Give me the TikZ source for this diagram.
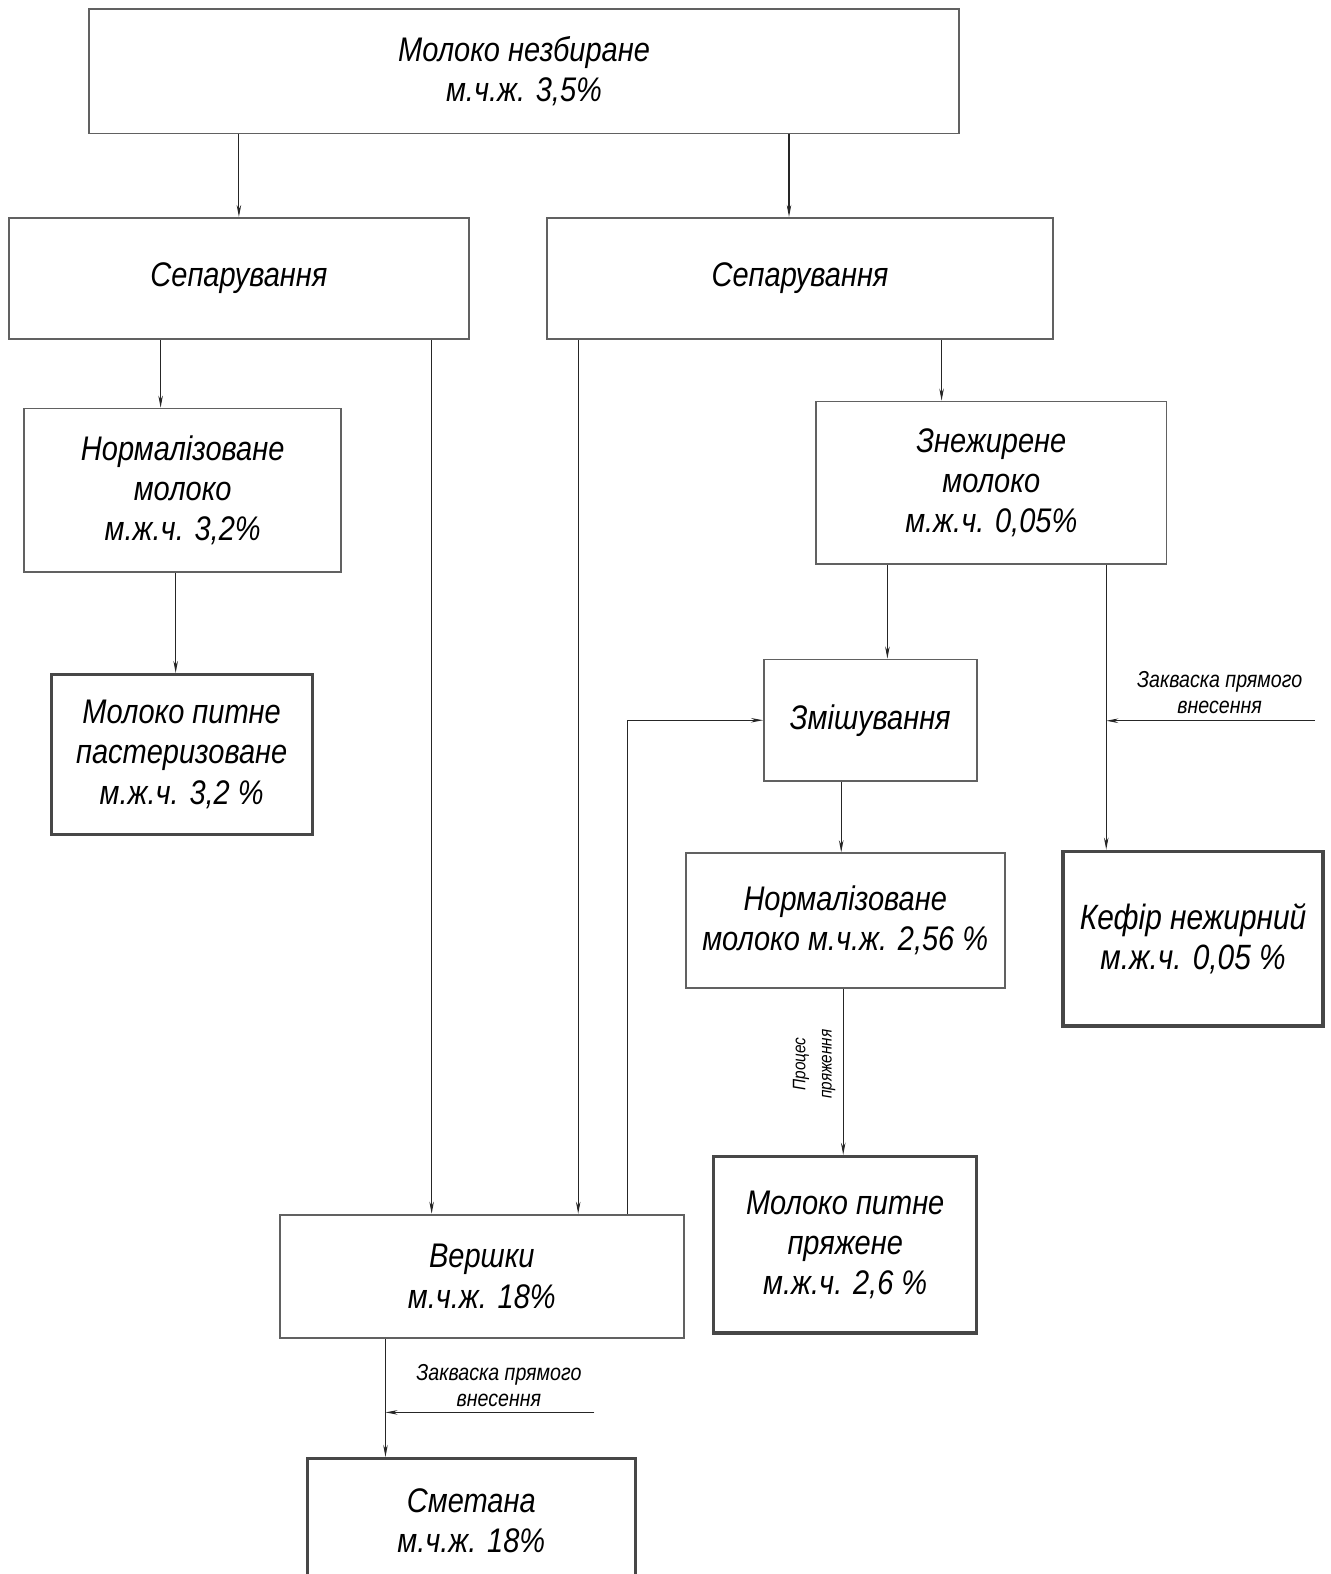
\documentclass[tikz,border=0pt]{standalone}
\usepackage{fontspec}
\setmainfont{Liberation Sans}[FakeStretch=0.85]
\usetikzlibrary{arrows.meta}
\newcommand\bigf{\fontsize{34}{40}\selectfont\itshape}
\newcommand\kf{\fontsize{35}{40}\selectfont\itshape}
\newcommand\smf{\fontsize{23}{26}\selectfont\itshape}
\newcommand\rotf{\fontsize{18}{26}\selectfont\itshape}
\begin{document}
\begin{tikzpicture}[x=1pt,y=-1pt,
  box/.style={draw=black!62, line width=1.8pt, align=center, inner sep=0pt, font=\bigf},
  thickbox/.style={box, draw=black!72, line width=3.2pt},
  conn/.style={draw=black!85, line width=1.1pt, -{Stealth[length=12pt,width=4.5pt]}},
  lab/.style={align=center, inner sep=0pt, font=\smf}]
\useasboundingbox (0,0) rectangle (1325,1568);
\clip (0,0) rectangle (1325,1568);
% boxes
\node[box, minimum width=866pt, minimum height=124pt] (top) at (522,71) {Молоко незбиране\\м.ч.ж. 3,5\%};
\node[box, minimum width=458pt, minimum height=121pt] (sepL) at (238,277.5) {Сепарування};
\node[box, minimum width=504pt, minimum height=121pt] (sepR) at (797,277.5) {Сепарування};
\node[box, minimum width=316pt, minimum height=163pt] (normL) at (182,488.5) {Нормалізоване\\молоко\\м.ж.ч. 3,2\%};
\node[thickbox, minimum width=260pt, minimum height=159pt] (milkL) at (181,751.5) {Молоко питне\\пастеризоване\\м.ж.ч. 3,2 \%};
\node[box, minimum width=349pt, minimum height=162pt] (zn) at (987.5,481) {Знежирене\\молоко\\м.ж.ч. 0,05\%};
\node[box, minimum width=212pt, minimum height=121pt] (zm) at (867,717.5) {Змішування};
\node[box, minimum width=318pt, minimum height=134pt] (norm2) at (842,917) {Нормалізоване\\молоко м.ч.ж. 2,56 \%};
\node[thickbox, font=\kf, minimum width=259pt, minimum height=174pt] (kef) at (1188.5,935) {Кефір нежирний\\м.ж.ч. 0,05 \%};
\node[thickbox, minimum width=262pt, minimum height=176pt] (pr) at (842,1240) {Молоко питне\\пряжене\\м.ж.ч. 2,6 \%};
\node[box, minimum width=402pt, minimum height=123pt] (ver) at (480,1271.5) {Вершки\\м.ч.ж. 18\%};
\node[thickbox, minimum width=327pt, minimum height=124pt] (sm) at (469.5,1515) {Сметана\\м.ч.ж. 18\%};
% labels
\node[lab] (lab1) at (1215,690) {Закваска прямого\\внесення};
\node[lab] (lab2) at (497,1380) {Закваска прямого\\внесення};
\node[lab, font=\rotf, rotate=90] (lab3) at (811,1060) {Процес\\пряження};
% input coordinates
\coordinate (k1) at (1310,718);
\coordinate (k2) at (1102,718);
\coordinate (s1) at (592,1407);
\coordinate (s2) at (384,1407);
% connectors
\draw[conn] (top.south -| 238,0) -- (sepL.north -| 238,0);
\draw[conn] (top.south -| 786,0) -- (sepR.north -| 786,0);
\draw[conn] (sepL.south -| 160,0) -- (normL.north -| 160,0);
\draw[conn] (sepL.south -| 430,0) -- (ver.north -| 430,0);
\draw[conn] (normL.south -| 175,0) -- (milkL.north -| 175,0);
\draw[conn] (sepR.south -| 576,0) -- (ver.north -| 576,0);
\draw[conn] (sepR.south -| 938,0) -- (zn.north -| 938,0);
\draw[conn] (zn.south -| 884,0) -- (zm.north -| 884,0);
\draw[conn] (zn.south -| 1102,0) -- (kef.north -| 1102,0);
\draw[conn] (zm.south -| 838,0) -- (norm2.north -| 838,0);
\draw[conn] (norm2.south -| 840,0) -- (pr.north -| 840,0);
\draw[conn] (ver.north -| 625,0) |- (zm.west);
\draw[conn] (k1) -- (k2);
\draw[conn] (ver.south -| 384,0) -- (sm.north -| 384,0);
\draw[conn] (s1) -- (s2);
\end{tikzpicture}
\end{document}
